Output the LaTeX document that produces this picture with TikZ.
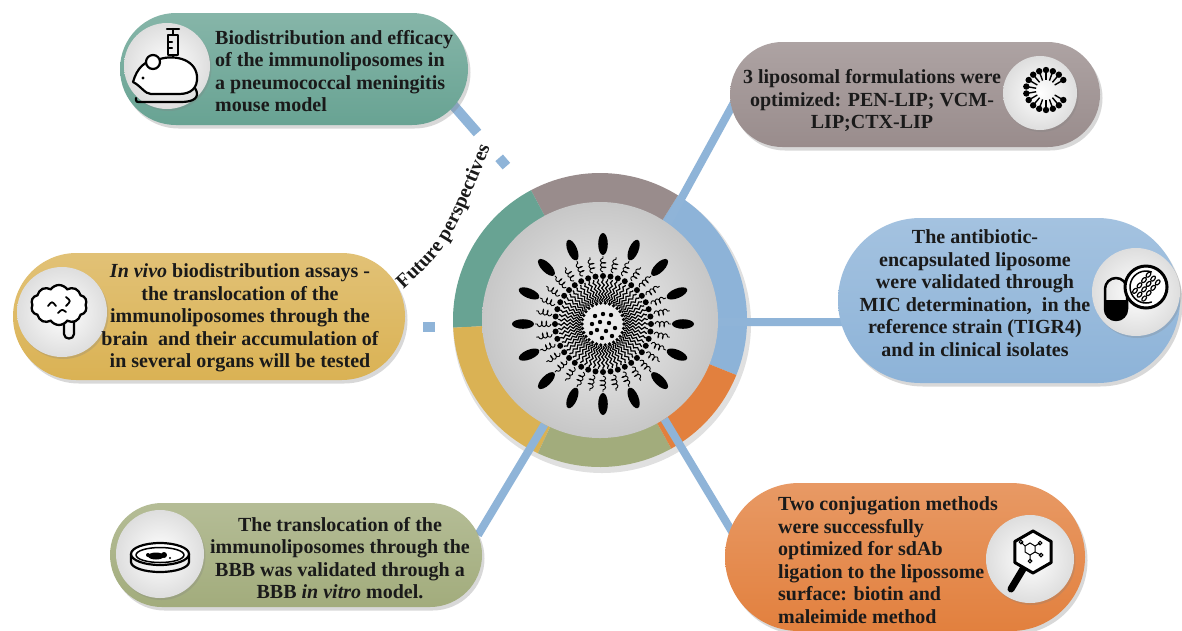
\documentclass[tikz,border=0pt]{standalone}
\usepackage{fontspec}
\setmainfont{Liberation Serif}
\usetikzlibrary{shapes.misc,shapes.symbols,shadows,decorations.pathmorphing,decorations.text,calc}

\pgfdeclarelayer{bglayer}
\pgfdeclarelayer{ringlayer}
\pgfdeclarelayer{linklayer}
\pgfsetlayers{bglayer,ringlayer,linklayer,main}

\definecolor{linkblue}{HTML}{8FB4D8}
\definecolor{cteal}{HTML}{68A393}
\definecolor{cgray}{HTML}{998C8C}
\definecolor{cblue}{HTML}{8DB3D8}
\definecolor{cgold}{HTML}{DAB254}
\definecolor{colive}{HTML}{A2AC7C}
\definecolor{corange}{HTML}{E2803E}
\definecolor{inkc}{HTML}{1A1A1A}

% one coloured sector of the ring around the hub
\newcommand{\ringseg}[3]{%
  \fill[#3] ($(hc)+(#1:147)$) arc[start angle=#1,end angle=#2,radius=147]
    -- ($(hc)+(#2:110)$) arc[start angle=#2,end angle=#1,radius=110] -- cycle;}

\tikzset{
  pill/.style={rounded rectangle, inner sep=0pt, top color=#1!80!white, bottom color=#1,
    drop shadow={shadow xshift=2.5pt, shadow yshift=-3.5pt, opacity=.3}},
  iconbg/.style={circle, inner sep=0pt, inner color=white, outer color=black!13,
    drop shadow={shadow xshift=1.5pt, shadow yshift=-2pt, opacity=.25}},
  txt/.style={font=\fontsize{20}{22.5}\selectfont\bfseries, text=inkc, inner sep=0pt},
  conn/.style={draw=linkblue, line width=8pt},
  dashconn/.style={draw=linkblue, line width=10pt},
  ico/.style={line width=2.2pt, line cap=round, line join=round},
}

\begin{document}
\begin{tikzpicture}[x=1pt,y=1pt]
\begin{pgfonlayer}{bglayer}
  \fill[white] (0,0) rectangle (1182,-630);
\end{pgfonlayer}
\useasboundingbox (0,0) rectangle (1182,-630);

% ---- ring and hub ----
\coordinate (hc) at (600,-320);
\begin{pgfonlayer}{ringlayer}
  \fill[black, opacity=.12] (602,-324) circle (149);
  \ringseg{-22}{58}{cblue}
  \ringseg{58}{118}{cgray}
  \ringseg{118}{183}{cteal}
  \ringseg{183}{245}{cgold}
  \ringseg{245}{299}{colive}
  \ringseg{299}{338}{corange}
\end{pgfonlayer}
\node[circle, minimum size=236pt, inner sep=0pt, inner color=black!6, outer color=black!22] (hub) at (hc) {};

% ---- liposome in the hub ----
\begin{scope}[shift={(603,-324)}]
  \foreach \p in {(-8,8),(0,10),(8,9),(-11,0),(-3,2),(6,1),(12,-4),(-6,-6),(3,-7),(-1,-14),(9,-12),(-12,-9)}
    \fill \p circle (2.2);
  \foreach \a in {0,6,...,354}
    \draw[line width=1.2pt, decorate, decoration={snake, amplitude=1.3pt, segment length=6pt}] (\a:22) -- (\a:45);
  \foreach \a in {0,12,...,348} \fill (\a:21) circle (1.8);
  \foreach \a in {0,9,...,351} \fill (\a:48) circle (3);
  \foreach \a in {0,11.25,...,348.75}
    \draw[line width=0.9pt, decorate, decoration={coil, amplitude=2.6pt, segment length=4.5pt}] (\a:52) -- (\a:68);
  \foreach \a in {90,112.5,...,427.5}
    \fill[rotate=\a] (80,0) ellipse[x radius=11, y radius=4.8];
\end{scope}

% ---- pills ----
\node[pill=cteal,   minimum width=348pt, minimum height=112pt] (pTeal)   at (294,-69)    {};
\node[pill=cgray,   minimum width=370pt, minimum height=105pt] (pGray)   at (915,-94.5)  {};
\node[pill=cblue,   minimum width=342pt, minimum height=165pt] (pBlue)   at (1009,-300.5){};
\node[pill=cgold,   minimum width=392pt, minimum height=127pt] (pGold)   at (209,-316.5) {};
\node[pill=colive,  minimum width=372pt, minimum height=104pt] (pOlive)  at (296,-555)   {};
\node[pill=corange, minimum width=360pt, minimum height=148pt] (pOrange) at (905,-557)   {};

% ---- connectors ----
\coordinate (eG) at (737,-97);
\coordinate (eB) at (850,-322);
\coordinate (eO) at (737,-540);
\coordinate (eV) at (478,-535);
\coordinate (fTs) at (440,-90);
\coordinate (fTe) at (515,-176);
\coordinate (fYs) at (400,-327);
\coordinate (fYe) at (445,-327);
\begin{pgfonlayer}{linklayer}
  \draw[conn] (hub.55) -- (eG);
  \draw[conn] (hub.-1) -- (eB);
  \draw[conn] (hub.-57) -- (eO);
  \draw[conn] (hub.-118) -- (eV);
  \draw[dashconn, dash pattern=on 57pt off 33pt on 11pt off 200pt] (fTs) -- (fTe);
  \draw[dashconn, dash pattern=on 0pt off 23pt on 12pt off 100pt] (fYs) -- (fYe);
\end{pgfonlayer}

% ---- icon discs ----
\node[iconbg, minimum size=86pt] (iTeal)   at (167,-66)   {};
\node[iconbg, minimum size=74pt] (iGray)   at (1040,-93)  {};
\node[iconbg, minimum size=88pt] (iBlue)   at (1136,-292) {};
\node[iconbg, minimum size=90pt] (iGold)   at (62,-312)   {};
\node[iconbg, minimum size=88pt] (iOlive)  at (160,-554)  {};
\node[iconbg, minimum size=88pt] (iOrange) at (1030,-559) {};

% mouse with syringe
\begin{scope}[shift={(167,-66)}, ico]
  \draw (0,37) -- (12,37);
  \draw (6,37) -- (6,31);
  \draw (1,31) rectangle (11,11);
  \draw (1,24) -- (5,24) (1,18) -- (5,18);
  \draw (6,11) -- (6,5);
  \draw[fill=white] (-34,-16) .. controls (-30,-2) and (-22,6) .. (-10,6)
     .. controls (5,12) and (28,8) .. (30,-10) .. controls (31,-22) and (24,-28) .. (12,-28)
     -- (-16,-28) .. controls (-22,-28) and (-26,-20) .. (-34,-16) -- cycle;
  \draw[fill=white] (-14,4) circle (7);
  \fill (-24,-12) circle (1.6);
  \draw (28,-22) .. controls (34,-32) and (26,-36) .. (14,-36) -- (-26,-36) .. controls (-31,-36) .. (-31,-32);
\end{scope}

% lipid arc
\begin{scope}[shift={(1046,-90)}]
  \foreach \a in {30,50,...,330} {
    \draw[line width=1.4pt] (\a:19) -- (\a:10);
    \fill (\a:20) circle (3.2);
  }
\end{scope}

% capsule and bacteria
\begin{scope}[shift={(1136,-292)}, ico]
  \fill (-31,-8) -- (-31,-17) arc[start angle=180, end angle=360, radius=11] -- (-9,-8) -- cycle;
  \draw[line width=2.5pt, rounded corners=11pt] (-31,-28) rectangle (-9,14);
  \draw[line width=3pt, fill=white] (10,5) circle (21);
  \draw[line width=1.5pt] (10,5) ++(70:16) arc[start angle=70, end angle=290, radius=16];
  \begin{scope}[shift={(10,5)}, rotate=50]
    \foreach \s in {-6,0,6}
      \foreach \t in {-10,-3,4,11}
        \draw[line width=1.2pt] (\t,\s) ellipse[x radius=3, y radius=1.8];
  \end{scope}
\end{scope}

% brain
\begin{scope}[shift={(62,-312)}]
  \draw[ico] (2,-8) -- (2,-22) .. controls (2,-28) and (12,-28) .. (12,-22) -- (12,-8);
  \node[cloud, cloud puffs=10, cloud puff arc=110, aspect=1.4, draw=black, line width=2.3pt,
        fill=white, minimum width=56pt, minimum height=40pt, inner sep=0pt] (brainic) at (-3,7) {};
  \draw[ico, line width=1.8pt] (-14,6) .. controls (-10,11) .. (-6,6);
  \draw[ico, line width=1.8pt] (4,15) .. controls (9,11) .. (4,6);
  \draw[ico, line width=1.8pt] (-4,-1) .. controls (0,3) .. (4,0);
\end{scope}

% petri dish
\begin{scope}[shift={(160,-554)}, ico]
  \draw (-29,0) -- (-29,-8) arc[start angle=180, end angle=360, x radius=29, y radius=10] -- (29,0);
  \draw[fill=white] (0,0) ellipse[x radius=29, y radius=11];
  \draw[line width=1.5pt] (0,-1) ellipse[x radius=24, y radius=7.5];
  \fill (-4,-2) ellipse[x radius=8, y radius=3.5];
  \fill (4,-1) circle (3);
  \fill (-12,-1) circle (2);
  \fill (10,-4) circle (1.2);
\end{scope}

% magnifier over a molecule
\begin{scope}[shift={(1030,-559)}]
  \draw[line width=7pt, line cap=round] (-7,-10) -- (-19,-30);
  \draw[line width=3pt, line join=round, fill=white, shift={(3,7)}]
    (90:21) -- (150:21) -- (210:21) -- (270:21) -- (330:21) -- (30:21) -- cycle;
  \begin{scope}[shift={(3,7)}, line width=1pt]
    \draw (-8,6) -- (-3,9) -- (2,6) -- (2,0) -- (-3,-3) -- (-8,0) -- cycle;
    \draw (2,6) -- (7,9) (2,0) -- (8,-3) (-3,-3) -- (-3,-9) (-8,6) -- (-12,10);
    \draw (7,9) circle (1.8) (8,-3) circle (1.8) (-3,-9) circle (1.8) (-12,10) circle (1.8);
  \end{scope}
\end{scope}

% ---- texts ----
\node[txt, align=left, anchor=west] (tTeal) at (215,-71)
  {Biodistribution and efficacy\\of the immunoliposomes in\\a pneumococcal meningitis\\mouse model};
\node[txt, align=center] (tGray) at (872,-101)
  {3 liposomal formulations were\\optimized: PEN-LIP; VCM-\\LIP;CTX-LIP};
\node[txt, align=center] (tBlue) at (975,-293)
  {The antibiotic-\\encapsulated liposome\\were validated through\\MIC determination,~ in the\\reference strain (TIGR4)\\and in clinical isolates};
\node[txt, align=center] (tGold) at (240,-318)
  {\textit{In vivo} biodistribution assays -\\the translocation of the\\immunoliposomes through the\\brain~ and their accumulation of\\in several organs will be tested};
\node[txt, align=center] (tOlive) at (340,-558)
  {The translocation of the\\immunoliposomes through the\\BBB was validated through a\\BBB \textit{in vitro} model.};
\node[txt, align=left, anchor=west] (tOrange) at (778,-560)
  {Two conjugation methods\\were successfully\\optimized for sdAb\\ligation to the lipossome\\surface: biotin and\\maleimide method};

% curved label of the future-perspectives branch
\path[decorate, decoration={text along path, text align=center,
   text={|\fontsize{20}{20}\selectfont\bfseries\color{inkc}|Future perspectives}}]
  (396,-296) .. controls (450,-246) .. (494,-138);

\end{tikzpicture}
\end{document}
